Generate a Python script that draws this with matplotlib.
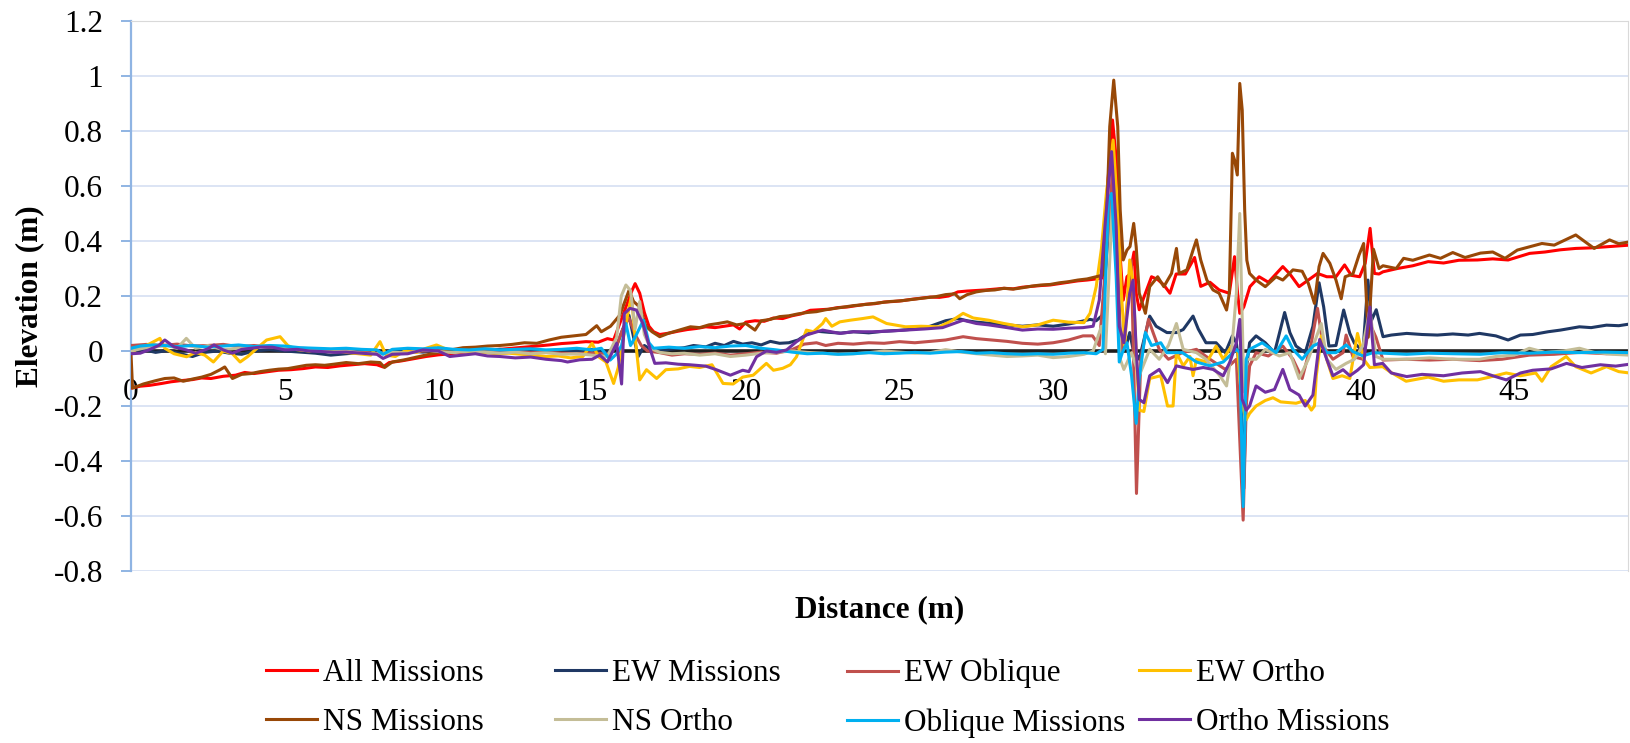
import numpy as np
import matplotlib.pyplot as plt
from matplotlib.ticker import FuncFormatter, MultipleLocator

# ---- data (distance m, elevation m) ----
all_x = [0.0, 0.3, 0.6, 1.0, 1.3, 1.6, 2.0, 2.3, 2.6, 3.0, 3.4, 3.7, 4.0, 4.4, 4.8, 5.2, 5.6, 6.0, 6.4, 6.8,
         7.2, 7.6, 8.0, 8.2, 8.4, 8.8, 9.2, 9.6, 10.0, 10.4, 10.8, 11.2, 11.6, 12.0, 12.4, 12.8, 13.2, 13.6,
         14.0, 14.4, 14.8, 15.2, 15.5, 15.7, 15.9, 16.1, 16.3, 16.4, 16.55, 16.7, 16.85, 17.0, 17.2, 17.5,
         17.8, 18.1, 18.4, 18.7, 19.0, 19.3, 19.6, 19.8, 20.0, 20.3, 20.6, 20.9, 21.2, 21.5, 21.8, 22.1,
         22.4, 22.7, 23.0, 23.3, 23.6, 23.9, 24.2, 24.5, 24.8, 25.1, 25.4, 25.7, 26.0, 26.3, 26.6, 26.9,
         27.2, 27.5, 27.8, 28.1, 28.4, 28.7, 29.0, 29.3, 29.6, 29.9, 30.2, 30.5, 30.8, 31.1, 31.4, 31.6,
         31.75, 31.93, 32.05, 32.15, 32.28, 32.4, 32.5, 32.63, 32.7, 32.8, 33.0, 33.2, 33.4, 33.6, 33.8,
         34.0, 34.3, 34.6, 34.8, 35.1, 35.4, 35.73, 35.9, 36.0, 36.07, 36.2, 36.4, 36.7, 37.0, 37.47, 37.7,
         38.0, 38.3, 38.6, 38.9, 39.2, 39.48, 39.7, 39.97, 40.15, 40.31, 40.45, 40.6, 40.73, 41.2, 41.7,
         42.2, 42.7, 43.2, 43.8, 44.3, 44.8, 45.5, 46.0, 46.5, 47.0, 47.5, 48.0, 48.4, 48.75]
all_y = [-0.135, -0.128, -0.125, -0.118, -0.112, -0.108, -0.104, -0.098, -0.1, -0.092, -0.088, -0.078,
         -0.082, -0.076, -0.07, -0.068, -0.064, -0.058, -0.06, -0.054, -0.05, -0.046, -0.05, -0.058, -0.042,
         -0.036, -0.028, -0.02, -0.014, -0.01, -0.004, 0.0, 0.004, 0.006, 0.01, 0.014, 0.018, 0.022, 0.027,
         0.03, 0.034, 0.032, 0.045, 0.04, 0.1, 0.16, 0.22, 0.245, 0.21, 0.14, 0.09, 0.07, 0.06, 0.065, 0.072,
         0.078, 0.082, 0.088, 0.085, 0.09, 0.095, 0.08, 0.105, 0.11, 0.108, 0.12, 0.118, 0.128, 0.135, 0.148,
         0.15, 0.152, 0.158, 0.16, 0.165, 0.17, 0.172, 0.178, 0.18, 0.183, 0.188, 0.192, 0.196, 0.195, 0.2,
         0.215, 0.218, 0.22, 0.222, 0.225, 0.228, 0.226, 0.232, 0.235, 0.238, 0.24, 0.245, 0.25, 0.255,
         0.258, 0.262, 0.266, 0.57, 0.84, 0.7, 0.39, 0.185, 0.27, 0.28, 0.36, 0.21, 0.15, 0.21, 0.27, 0.26,
         0.24, 0.21, 0.28, 0.28, 0.34, 0.235, 0.25, 0.222, 0.21, 0.343, 0.21, 0.137, 0.16, 0.234, 0.27, 0.25,
         0.307, 0.28, 0.234, 0.258, 0.282, 0.27, 0.27, 0.313, 0.275, 0.27, 0.319, 0.446, 0.282, 0.28, 0.288,
         0.3, 0.31, 0.325, 0.32, 0.33, 0.331, 0.335, 0.331, 0.355, 0.36, 0.368, 0.373, 0.375, 0.379, 0.382,
         0.385]

ewm_x = [0.0, 0.4, 0.8, 1.2, 1.6, 2.0, 2.4, 2.8, 3.2, 3.6, 4.0, 4.5, 5.0, 5.5, 6.0, 6.5, 7.0, 7.5, 8.0, 8.5,
         9.0, 9.5, 10.0, 10.5, 11.0, 11.5, 12.0, 12.5, 13.0, 13.5, 14.0, 14.5, 15.0, 15.5, 15.8, 16.0, 16.2,
         16.35, 16.5, 16.7, 17.0, 17.5, 18.0, 18.3, 18.7, 19.0, 19.3, 19.6, 19.9, 20.2, 20.5, 20.8, 21.1,
         21.4, 21.7, 21.97, 22.3, 22.7, 23.1, 23.5, 24.0, 24.5, 25.0, 25.5, 26.0, 26.5, 26.9, 27.2, 27.5,
         28.0, 28.5, 29.0, 29.5, 30.0, 30.5, 30.97, 31.2, 31.4, 31.6, 31.8, 31.95, 32.1, 32.2, 32.4, 32.49,
         32.6, 32.8, 33.14, 33.35, 33.7, 34.01, 34.23, 34.55, 34.72, 34.97, 35.3, 35.6, 35.83, 35.96, 36.1,
         36.2, 36.3, 36.39, 36.6, 36.9, 37.2, 37.53, 37.7, 37.9, 38.2, 38.45, 38.65, 38.8, 38.97, 39.2,
         39.45, 39.65, 39.8, 40.08, 40.24, 40.35, 40.51, 40.73, 41.0, 41.5, 42.0, 42.5, 43.0, 43.5, 43.87,
         44.4, 44.8, 45.2, 45.6, 46.1, 46.5, 47.12, 47.5, 48.0, 48.4, 48.75]
ewm_y = [0.0, 0.005, -0.005, 0.002, -0.01, -0.02, -0.005, 0.0, -0.008, -0.012, 0.0, 0.005, 0.0, -0.004,
         -0.008, -0.015, -0.01, -0.005, -0.008, -0.004, 0.0, -0.004, 0.002, 0.0, 0.004, 0.002, 0.006, 0.002,
         0.004, 0.0, 0.004, 0.0, 0.006, -0.005, 0.02, 0.08, 0.13, 0.05, -0.02, 0.02, 0.0, 0.006, 0.012, 0.02,
         0.015, 0.028, 0.02, 0.035, 0.025, 0.03, 0.022, 0.035, 0.028, 0.03, 0.04, 0.06, 0.072, 0.068, 0.065,
         0.07, 0.066, 0.072, 0.075, 0.08, 0.09, 0.11, 0.118, 0.11, 0.105, 0.1, 0.095, 0.09, 0.095, 0.09,
         0.098, 0.109, 0.115, 0.11, 0.13, 0.45, 0.62, 0.3, -0.006, 0.03, 0.067, 0.006, -0.03, 0.127, 0.09,
         0.067, 0.067, 0.078, 0.127, 0.08, 0.03, 0.03, -0.006, 0.055, 0.03, -0.1, -0.5, -0.05, 0.03, 0.055,
         0.03, -0.006, 0.14, 0.067, 0.018, -0.006, 0.09, 0.248, 0.16, 0.018, 0.02, 0.149, 0.064, 0.028, 0.0,
         0.258, 0.11, 0.15, 0.052, 0.058, 0.064, 0.06, 0.058, 0.062, 0.058, 0.064, 0.055, 0.04, 0.058, 0.06,
         0.07, 0.076, 0.088, 0.085, 0.094, 0.092, 0.098]

ewo_x = [0.0, 0.5, 1.0, 1.5, 2.0, 2.5, 3.0, 3.5, 4.0, 4.5, 5.0, 5.5, 6.0, 6.5, 7.0, 7.5, 8.0, 8.5, 9.0, 9.5,
         10.0, 10.5, 11.0, 11.5, 12.0, 12.5, 13.0, 13.5, 14.0, 14.5, 15.0, 15.5, 15.8, 16.0, 16.2, 16.4,
         16.6, 16.8, 17.2, 17.6, 18.0, 18.5, 19.0, 19.5, 20.0, 20.5, 21.0, 21.5, 21.9, 22.3, 22.6, 23.0,
         23.5, 24.0, 24.5, 25.0, 25.5, 26.0, 26.5, 27.07, 27.5, 28.0, 28.5, 29.0, 29.5, 30.0, 30.5, 30.97,
         31.28, 31.5, 31.7, 31.93, 32.05, 32.2, 32.35, 32.54, 32.63, 32.71, 32.85, 33.1, 33.25, 33.45, 33.75,
         34.2, 34.66, 35.1, 35.6, 35.96, 36.18, 36.28, 36.39, 36.6, 37.0, 37.47, 37.8, 38.1, 38.4, 38.6,
         38.78, 39.1, 39.43, 39.53, 39.75, 40.08, 40.3, 40.5, 40.73, 41.5, 42.24, 43.0, 43.87, 44.6, 45.49,
         46.3, 47.12, 48.0, 48.75]
ewo_y = [0.02, 0.024, 0.02, 0.025, 0.018, 0.02, 0.024, 0.016, 0.02, 0.014, 0.012, 0.01, 0.008, 0.004, 0.0,
         -0.004, -0.008, -0.01, -0.004, 0.0, 0.002, -0.004, -0.002, 0.002, -0.004, 0.0, -0.006, -0.004,
         -0.008, -0.01, -0.006, -0.012, 0.02, 0.08, 0.12, 0.06, 0.02, 0.0, -0.006, -0.015, -0.01, -0.012,
         -0.008, -0.015, -0.01, -0.004, -0.008, 0.005, 0.025, 0.03, 0.02, 0.028, 0.025, 0.03, 0.028, 0.034,
         0.03, 0.035, 0.04, 0.052, 0.045, 0.04, 0.035, 0.028, 0.025, 0.03, 0.04, 0.055, 0.055, 0.02, 0.3,
         0.65, 0.4, -0.006, 0.1, 0.33, -0.1, -0.518, -0.03, 0.115, 0.067, 0.006, -0.03, -0.006, 0.006, -0.03,
         -0.067, -0.03, -0.615, -0.2, -0.055, -0.006, -0.018, 0.018, -0.03, -0.1, 0.03, 0.155, 0.018, -0.03,
         -0.006, 0.058, -0.02, -0.03, 0.1, 0.05, -0.033, -0.03, -0.033, -0.03, -0.035, -0.03, -0.015,
         -0.012, -0.005, -0.01, -0.008]

ewr_x = [0.0, 0.2, 0.5, 0.94, 1.1, 1.4, 1.81, 2.1, 2.4, 2.68, 3.0, 3.3, 3.55, 3.8, 4.1, 4.41, 4.85, 5.1, 5.4,
         5.8, 6.2, 6.6, 7.0, 7.4, 7.8, 8.1, 8.3, 8.6, 8.9, 9.3, 9.6, 9.94, 10.3, 10.7, 11.1, 11.5, 11.9,
         12.3, 12.7, 13.1, 13.5, 13.9, 14.3, 14.7, 15.0, 15.2, 15.45, 15.7, 15.85, 16.1, 16.28, 16.4, 16.55,
         16.77, 17.1, 17.4, 17.8, 18.17, 18.5, 18.9, 19.26, 19.59, 19.9, 20.24, 20.67, 20.9, 21.2, 21.45,
         21.65, 21.97, 22.2, 22.5, 22.6, 22.8, 23.06, 23.4, 23.8, 24.14, 24.58, 25.2, 25.7, 26.3, 26.7,
         27.07, 27.4, 27.9, 28.4, 29.0, 29.5, 30.0, 30.5, 31.0, 31.2, 31.4, 31.57, 31.73, 31.95, 32.1, 32.22,
         32.33, 32.49, 32.6, 32.71, 32.8, 32.95, 33.14, 33.5, 33.72, 33.9, 34.01, 34.23, 34.45, 34.55, 34.66,
         35.0, 35.3, 35.53, 35.8, 36.0, 36.15, 36.28, 36.39, 36.6, 36.9, 37.15, 37.4, 37.9, 38.2, 38.4, 38.5,
         38.56, 38.72, 38.9, 39.1, 39.4, 39.65, 39.9, 40.1, 40.3, 40.72, 40.95, 41.48, 42.2, 42.7, 43.2,
         43.8, 44.2, 44.74, 45.2, 45.7, 45.9, 46.2, 46.69, 47.0, 47.5, 48.0, 48.4, 48.75]
ewr_y = [-0.01, 0.01, 0.02, 0.046, 0.01, -0.01, -0.021, -0.005, -0.015, -0.04, 0.0, -0.01, -0.04, -0.02,
         0.01, 0.04, 0.052, 0.02, 0.005, 0.0, 0.008, 0.002, -0.005, -0.01, -0.015, 0.034, -0.015, -0.02, 0.0,
         -0.005, 0.01, 0.022, 0.005, 0.0, -0.005, -0.005, -0.01, -0.008, -0.012, -0.015, -0.02, -0.018,
         -0.025, -0.02, 0.028, -0.02, -0.04, -0.118, -0.06, 0.1, 0.2, 0.05, -0.105, -0.068, -0.1, -0.068,
         -0.065, -0.056, -0.06, -0.05, -0.118, -0.12, -0.095, -0.088, -0.045, -0.07, -0.063, -0.05, -0.021,
         0.076, 0.07, 0.1, 0.118, 0.09, 0.106, 0.112, 0.118, 0.124, 0.1, 0.088, 0.09, 0.088, 0.11, 0.137,
         0.12, 0.112, 0.1, 0.088, 0.095, 0.112, 0.105, 0.103, 0.137, 0.234, 0.373, 0.573, 0.767, 0.513, 0.21,
         0.018, 0.331, 0.25, -0.03, -0.215, -0.22, -0.1, -0.09, -0.2, -0.2, -0.006, -0.054, -0.02, -0.09,
         -0.03, -0.04, 0.018, -0.03, 0.018, 0.0, -0.2, -0.25, -0.227, -0.2, -0.18, -0.17, -0.185, -0.19,
         -0.18, -0.215, -0.2, -0.09, 0.055, -0.03, -0.1, -0.09, -0.1, 0.064, -0.03, -0.06, -0.057, -0.075,
         -0.11, -0.095, -0.11, -0.105, -0.105, -0.095, -0.08, -0.09, -0.08, -0.11, -0.057, -0.02, -0.057,
         -0.08, -0.057, -0.075, -0.08]

nsm_x = [0.0, 0.05, 0.4, 0.8, 1.1, 1.4, 1.7, 2.0, 2.3, 2.6, 2.9, 3.05, 3.3, 3.6, 3.9, 4.2, 4.5, 4.8, 5.1,
         5.4, 5.7, 6.0, 6.3, 6.6, 7.0, 7.4, 7.8, 8.1, 8.25, 8.5, 8.9, 9.3, 9.7, 10.0, 10.4, 10.8, 11.2,
         11.6, 12.0, 12.4, 12.8, 13.2, 13.6, 14.0, 14.4, 14.8, 15.15, 15.3, 15.6, 15.9, 16.1, 16.2, 16.35,
         16.55, 16.75, 16.95, 17.2, 17.5, 17.8, 18.2, 18.5, 18.8, 19.1, 19.4, 19.7, 20.0, 20.3, 20.5, 20.8,
         21.1, 21.4, 21.7, 22.0, 22.3, 22.6, 22.9, 23.2, 23.5, 23.8, 24.1, 24.4, 24.7, 25.0, 25.3, 25.6,
         25.9, 26.2, 26.5, 26.8, 26.96, 27.2, 27.5, 27.8, 28.1, 28.4, 28.7, 29.0, 29.3, 29.6, 29.9, 30.2,
         30.5, 30.8, 31.1, 31.4, 31.62, 31.73, 31.84, 31.97, 32.1, 32.18, 32.28, 32.4, 32.5, 32.62, 32.7,
         32.8, 33.0, 33.14, 33.4, 33.6, 33.85, 34.01, 34.1, 34.35, 34.55, 34.66, 34.8, 35.0, 35.2, 35.4,
         35.64, 35.73, 35.83, 35.9, 35.99, 36.07, 36.15, 36.23, 36.3, 36.39, 36.6, 36.9, 37.25, 37.47, 37.8,
         38.1, 38.3, 38.5, 38.65, 38.78, 39.0, 39.2, 39.37, 39.5, 39.75, 39.95, 40.1, 40.25, 40.42, 40.6,
         40.73, 41.16, 41.4, 41.7, 42.24, 42.6, 43.0, 43.4, 43.9, 44.3, 44.7, 45.1, 45.9, 46.3, 47.0, 47.6,
         48.1, 48.4, 48.75]
nsm_y = [-0.01, -0.135, -0.12, -0.108, -0.1, -0.098, -0.11, -0.102, -0.095, -0.085, -0.068, -0.058, -0.1,
         -0.085, -0.082, -0.075, -0.07, -0.066, -0.064, -0.058, -0.052, -0.05, -0.052, -0.048, -0.042,
         -0.046, -0.04, -0.042, -0.06, -0.04, -0.032, -0.022, -0.012, -0.006, 0.004, 0.012, 0.014, 0.018,
         0.02, 0.024, 0.03, 0.028, 0.04, 0.05, 0.055, 0.06, 0.092, 0.07, 0.09, 0.13, 0.19, 0.22, 0.18, 0.16,
         0.09, 0.07, 0.052, 0.065, 0.075, 0.088, 0.085, 0.095, 0.1, 0.106, 0.095, 0.1, 0.076, 0.11, 0.115,
         0.125, 0.128, 0.135, 0.14, 0.143, 0.15, 0.155, 0.16, 0.165, 0.168, 0.172, 0.176, 0.18, 0.182, 0.186,
         0.19, 0.194, 0.198, 0.205, 0.208, 0.19, 0.205, 0.215, 0.22, 0.222, 0.228, 0.225, 0.23, 0.236, 0.24,
         0.242, 0.248, 0.252, 0.258, 0.262, 0.27, 0.276, 0.452, 0.816, 0.985, 0.816, 0.513, 0.331, 0.367,
         0.38, 0.464, 0.38, 0.21, 0.137, 0.234, 0.27, 0.234, 0.282, 0.373, 0.282, 0.295, 0.367, 0.404, 0.331,
         0.258, 0.222, 0.21, 0.149, 0.21, 0.719, 0.695, 0.64, 0.973, 0.876, 0.513, 0.33, 0.282, 0.258, 0.234,
         0.27, 0.258, 0.295, 0.29, 0.246, 0.173, 0.307, 0.355, 0.319, 0.258, 0.19, 0.27, 0.28, 0.349, 0.391,
         0.05, 0.37, 0.3, 0.31, 0.3, 0.337, 0.33, 0.349, 0.337, 0.358, 0.34, 0.356, 0.36, 0.337, 0.367,
         0.391, 0.385, 0.422, 0.373, 0.404, 0.39, 0.397]

nso_x = [0.0, 0.4, 0.8, 1.2, 1.5, 1.8, 2.1, 2.5, 3.0, 3.5, 4.0, 4.5, 5.0, 5.5, 6.0, 6.5, 7.0, 7.5, 8.0, 8.5,
         9.0, 9.5, 10.0, 10.5, 11.0, 11.5, 12.0, 12.5, 13.0, 13.5, 14.0, 14.5, 15.0, 15.5, 15.8, 15.95, 16.1,
         16.25, 16.4, 16.55, 16.7, 16.9, 17.2, 17.6, 18.0, 18.5, 19.0, 19.5, 20.0, 20.5, 21.0, 21.5, 22.0,
         22.5, 23.0, 23.5, 24.0, 24.5, 25.0, 25.5, 26.0, 26.5, 27.0, 27.5, 28.0, 28.5, 29.0, 29.5, 30.0,
         30.5, 31.0, 31.3, 31.57, 31.7, 31.84, 31.93, 32.05, 32.18, 32.3, 32.55, 32.8, 33.14, 33.45, 33.75,
         34.01, 34.23, 34.66, 34.97, 35.42, 35.64, 35.8, 35.96, 36.07, 36.18, 36.23, 36.3, 36.6, 36.9,
         37.36, 37.7, 38.0, 38.3, 38.72, 38.9, 39.2, 39.53, 39.8, 40.08, 40.3, 40.5, 40.73, 41.5, 42.24,
         43.0, 43.87, 44.4, 45.0, 45.49, 46.0, 46.6, 47.12, 47.6, 48.2, 48.75]
nso_y = [0.0, 0.01, 0.015, 0.02, 0.01, 0.046, 0.01, 0.02, 0.005, 0.01, 0.015, 0.02, 0.015, 0.005, 0.002,
         -0.004, 0.0, -0.008, -0.01, -0.004, -0.008, 0.005, -0.002, -0.006, 0.0, -0.004, -0.008, -0.004,
         -0.01, -0.006, -0.012, -0.01, -0.015, -0.02, 0.05, 0.2, 0.24, 0.22, 0.08, 0.18, 0.06, 0.01, -0.005,
         -0.01, -0.008, -0.015, -0.01, -0.02, -0.015, -0.008, -0.005, 0.0, -0.005, -0.008, -0.012, -0.01,
         -0.006, 0.0, -0.004, -0.008, -0.006, 0.005, -0.004, -0.01, -0.015, -0.02, -0.018, -0.015, -0.024,
         -0.02, -0.012, 0.0, 0.09, -0.01, 0.33, 0.549, 0.33, -0.03, -0.067, -0.006, -0.09, 0.006, -0.03,
         0.02, 0.1, 0.006, -0.006, -0.03, -0.09, -0.127, -0.006, 0.21, 0.5, -0.03, -0.15, -0.03, -0.03,
         0.006, -0.018, -0.006, -0.1, -0.03, 0.1, -0.03, -0.067, -0.045, -0.03, 0.02, 0.15, -0.02, -0.03,
         -0.03, -0.025, -0.03, -0.03, -0.02, -0.015, 0.01, -0.005, 0.0, 0.01, -0.005, -0.012, -0.015]

obl_x = [0.0, 0.3, 0.7, 1.1, 1.5, 2.0, 2.5, 3.0, 3.5, 4.0, 4.5, 5.0, 5.5, 6.0, 6.5, 7.0, 7.5, 8.0, 8.2, 8.5,
         9.0, 9.5, 10.0, 10.5, 11.0, 11.5, 12.0, 12.5, 13.0, 13.5, 14.0, 14.5, 15.0, 15.3, 15.59, 15.8,
         15.96, 16.1, 16.25, 16.4, 16.67, 16.85, 17.0, 17.5, 18.0, 18.5, 19.0, 19.5, 20.0, 20.5, 21.0, 21.5,
         22.0, 22.5, 23.0, 23.5, 24.0, 24.5, 25.0, 25.5, 26.0, 26.5, 27.0, 27.5, 28.0, 28.5, 29.0, 29.5,
         30.0, 30.5, 31.0, 31.4, 31.62, 31.8, 31.9, 32.05, 32.15, 32.25, 32.4, 32.55, 32.7, 32.8, 33.0, 33.2,
         33.5, 33.7, 34.2, 34.66, 35.1, 35.53, 35.96, 36.07, 36.18, 36.28, 36.39, 36.8, 37.25, 37.58, 37.8,
         38.1, 38.45, 38.67, 38.9, 39.2, 39.53, 39.75, 40.08, 40.4, 40.75, 41.5, 42.2, 43.0, 43.9, 44.6,
         45.5, 46.3, 47.1, 47.9, 48.75]
obl_y = [0.01, 0.018, 0.022, 0.02, 0.016, 0.02, 0.014, 0.018, 0.022, 0.016, 0.02, 0.018, 0.012, 0.01, 0.008,
         0.01, 0.006, 0.004, -0.012, 0.006, 0.01, 0.008, 0.012, 0.006, 0.004, 0.008, 0.004, 0.006, 0.008,
         0.004, 0.006, 0.01, 0.004, 0.01, -0.033, -0.01, 0.02, 0.1, 0.02, 0.05, 0.112, 0.03, 0.01, 0.014,
         0.01, 0.016, 0.012, 0.018, 0.02, 0.01, 0.004, -0.004, -0.01, -0.008, -0.012, -0.01, -0.006, -0.01,
         -0.008, -0.005, -0.008, -0.004, -0.002, -0.008, -0.006, -0.01, -0.012, -0.01, -0.012, -0.008,
         -0.006, -0.01, 0.006, 0.549, 0.573, 0.27, -0.04, -0.006, 0.03, -0.09, -0.263, -0.1, 0.067, 0.02,
         0.03, -0.006, -0.006, -0.04, -0.054, -0.04, 0.006, -0.006, -0.566, -0.03, 0.006, 0.03, -0.006,
         0.055, 0.006, -0.03, 0.018, 0.03, -0.006, -0.006, 0.022, -0.002, -0.018, -0.006, -0.008, -0.012,
         -0.008, -0.01, -0.012, -0.006, -0.008, -0.004, -0.006, -0.004, -0.006]

orm_x = [0.0, 0.3, 0.6, 0.9, 1.1, 1.4, 1.8, 2.1, 2.5, 2.7, 3.0, 3.3, 3.6, 3.9, 4.2, 4.6, 5.0, 5.4, 5.8, 6.2,
         6.6, 7.0, 7.5, 8.0, 8.2, 8.5, 9.0, 9.5, 10.0, 10.37, 10.8, 11.2, 11.6, 12.0, 12.5, 13.0, 13.5, 14.0,
         14.2, 14.6, 15.0, 15.25, 15.5, 15.8, 15.96, 16.05, 16.23, 16.44, 16.65, 16.88, 17.04, 17.4, 17.8,
         18.17, 18.7, 19.04, 19.5, 19.9, 20.1, 20.35, 20.67, 21.0, 21.33, 21.65, 21.97, 22.5, 23.06, 23.5,
         24.14, 24.6, 25.2, 25.8, 26.4, 27.07, 27.5, 27.9, 28.5, 29.0, 29.5, 30.0, 30.5, 30.97, 31.3, 31.5,
         31.7, 31.9, 32.05, 32.15, 32.3, 32.49, 32.6, 32.7, 32.8, 32.95, 33.14, 33.45, 33.72, 34.01, 34.23,
         34.55, 34.88, 35.2, 35.53, 35.75, 35.96, 36.07, 36.15, 36.28, 36.39, 36.6, 36.9, 37.2, 37.47, 37.7,
         38.0, 38.2, 38.45, 38.67, 38.9, 39.1, 39.43, 39.65, 39.9, 40.1, 40.3, 40.45, 40.72, 41.0, 41.5,
         42.0, 42.7, 43.3, 43.9, 44.3, 44.74, 45.2, 45.6, 46.2, 46.7, 47.2, 47.8, 48.3, 48.75]
orm_y = [-0.01, -0.008, 0.005, 0.02, 0.04, 0.015, 0.004, -0.008, 0.008, 0.022, 0.004, -0.008, 0.006, 0.01,
         0.014, 0.014, 0.004, 0.006, 0.0, -0.002, -0.005, -0.004, -0.008, -0.012, -0.027, -0.012, -0.01,
         0.004, 0.0, -0.02, -0.015, -0.01, -0.018, -0.02, -0.025, -0.022, -0.03, -0.035, -0.04, -0.032,
         -0.03, -0.015, -0.04, 0.028, -0.12, 0.136, 0.155, 0.149, 0.1, 0.01, -0.045, -0.043, -0.048, -0.05,
         -0.055, -0.068, -0.088, -0.07, -0.075, -0.021, 0.0, -0.005, 0.004, 0.034, 0.058, 0.076, 0.064, 0.07,
         0.07, 0.072, 0.076, 0.08, 0.085, 0.112, 0.1, 0.095, 0.085, 0.076, 0.08, 0.079, 0.083, 0.085, 0.09,
         0.185, 0.476, 0.725, 0.452, 0.09, 0.03, 0.21, 0.258, 0.006, -0.176, -0.188, -0.09, -0.067, -0.115,
         -0.054, -0.06, -0.067, -0.06, -0.067, -0.09, -0.04, 0.03, 0.115, -0.176, -0.215, -0.2, -0.127,
         -0.15, -0.14, -0.067, -0.14, -0.16, -0.2, -0.16, 0.042, -0.03, -0.09, -0.068, -0.09, -0.07, -0.05,
         0.16, -0.05, -0.045, -0.08, -0.093, -0.085, -0.09, -0.08, -0.075, -0.09, -0.105, -0.08, -0.07,
         -0.065, -0.045, -0.06, -0.05, -0.055, -0.048]

series = [
    ('All Missions', all_x, all_y, '#FF0000'),
    ('EW Missions', ewm_x, ewm_y, '#1F3864'),
    ('EW Oblique', ewo_x, ewo_y, '#C0504D'),
    ('EW Ortho', ewr_x, ewr_y, '#FFC000'),
    ('NS Missions', nsm_x, nsm_y, '#984807'),
    ('NS Ortho', nso_x, nso_y, '#C4BD97'),
    ('Oblique Missions', obl_x, obl_y, '#00B0F0'),
    ('Ortho Missions', orm_x, orm_y, '#7030A0'),
]

plt.rcParams['font.family'] = 'Liberation Serif'
FS = 22.5

fig = plt.figure(figsize=(16.31, 7.43), dpi=100)
ax = fig.add_axes([131 / 1631, 1 - 571 / 743, 1497 / 1631, 550 / 743])

handles = []
for name, xs, ys, col in series:
    h, = ax.plot(xs, ys, color=col, lw=2.2, label=name, zorder=3)
    handles.append(h)

ax.axhline(0, color='#1E1E1E', lw=2.6, zorder=2)

ax.set_xlim(0, 48.7)
ax.set_ylim(-0.8, 1.2)
ax.yaxis.set_major_locator(MultipleLocator(0.2))
ax.yaxis.set_major_formatter(FuncFormatter(lambda v, p: f'{round(v, 1):g}'))
ax.set_xticks(np.arange(0, 50, 5))
ax.grid(axis='y', color='#D9E2F3', lw=1.3, zorder=0)
ax.set_axisbelow(True)

ax.spines['bottom'].set_position(('data', 0))
ax.spines['bottom'].set_visible(False)
ax.spines['left'].set_color('#8FB4E3')
ax.spines['left'].set_linewidth(1.6)
ax.spines['top'].set_color('#D9D9D9')
ax.spines['right'].set_color('#D9D9D9')
ax.tick_params(axis='y', direction='out', length=7.2, width=1.4, color='#8FB4E3', pad=13,
               labelsize=FS)
ax.tick_params(axis='x', length=0, pad=19.5, labelsize=FS)

ax.set_xlabel('Distance (m)', fontsize=FS, fontweight='bold')
ax.set_ylabel('Elevation (m)', fontsize=FS, fontweight='bold')
ax.xaxis.set_label_coords(0.5, (571 - 610) / 550)
ax.xaxis.label.set_va('center')
ax.yaxis.set_label_coords((30 - 131) / 1497, 0.5)
ax.yaxis.label.set_va('center')

# legend: 4 evenly spaced columns, two rows
col_x = [266, 555, 847, 1139]
for i, cx in enumerate(col_x):
    fig.legend(handles=[handles[i], handles[i + 4]], loc='upper left',
               bbox_to_anchor=(cx / 1631, 1 - 659 / 743), frameon=False,
               fontsize=FS, handlelength=1.63, handletextpad=0.2,
               labelspacing=0.64, borderpad=0, borderaxespad=0)

fig.savefig('out.png', dpi=100)
